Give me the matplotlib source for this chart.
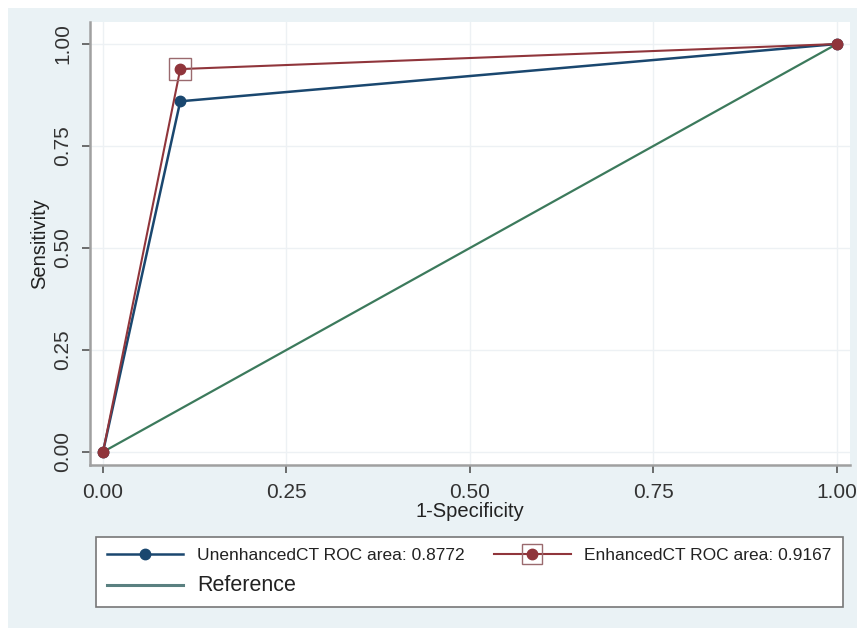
import matplotlib
matplotlib.use("Agg")
import matplotlib.pyplot as plt
from matplotlib.lines import Line2D
from matplotlib.patches import Rectangle

plt.rcParams['font.family'] = ['Liberation Sans', 'DejaVu Sans']

# data
fpr_unenh = [0.0, 0.1053, 1.0]
sens_unenh = [0.0, 0.8596, 1.0]
fpr_enh = [0.0, 0.1053, 1.0]
sens_enh = [0.0, 0.9386, 1.0]
ref_x = [0.0, 1.0]
ref_y = [0.0, 1.0]
ticks = [0.0, 0.25, 0.5, 0.75, 1.0]
tick_labels = ["0.00", "0.25", "0.50", "0.75", "1.00"]
label_unenh = "UnenhancedCT ROC area: 0.8772"
label_enh = "EnhancedCT ROC area: 0.9167"
label_ref = "Reference"

navy = "#1A476F"
maroon = "#90353B"
green = "#3C7A5C"
bg = "#EAF2F5"

fig = plt.figure(figsize=(8.61, 6.32), dpi=100, facecolor="white")
fig.patches.append(Rectangle((8/861, 4/632), 849/861, 620/632, transform=fig.transFigure,
                             facecolor=bg, edgecolor="none", zorder=-10))

ax = fig.add_axes([90/861, (632-465)/632, (850-90)/861, (465-22)/632])
ax.set_zorder(1)
ax.set_facecolor("white")
ax.set_xlim(-0.0177, 1.018)
ax.set_ylim(-0.032, 1.054)

for t in ticks:
    ax.axhline(t, color="#EDF1F4", lw=1.0, zorder=0)
    ax.axvline(t, color="#EDF1F4", lw=1.0, zorder=0)

ax.plot(ref_x, ref_y, color=green, lw=1.6, zorder=2)
ax.plot(fpr_unenh, sens_unenh, color=navy, lw=1.8, marker="o", ms=7.5, zorder=3)
ax.plot(fpr_enh, sens_enh, color=maroon, lw=1.5, marker="o", ms=7.5, zorder=4)
ax.plot([fpr_enh[1]], [sens_enh[1]], linestyle="none", marker="s", ms=16,
        markerfacecolor="none", markeredgecolor="#9A6A6E", mew=1.0, zorder=5)

for s in ["top", "right"]:
    ax.spines[s].set_visible(False)
for s in ["left", "bottom"]:
    ax.spines[s].set_color("#A0A0A0")
    ax.spines[s].set_linewidth(1.8)

ax.set_xticks(ticks)
ax.set_xticklabels(tick_labels, fontsize=15, color="#333333")
ax.set_yticks(ticks)
ax.set_yticklabels(tick_labels, fontsize=15, color="#333333", rotation=90, va="center")
ax.tick_params(direction="out", length=6, width=1.2, color="#555555", pad=7)
ax.set_xlabel("1-Specificity", fontsize=14.5, color="#222222", labelpad=0)
ax.set_ylabel("Sensitivity", fontsize=14.5, color="#222222", labelpad=3)

h_u = Line2D([], [], color=navy, lw=1.8, marker="o", ms=7.5)
h_e = Line2D([], [], color=maroon, lw=1.5, marker="o", ms=7.5)
h_es = Line2D([], [], color="none", marker="s", ms=14, markerfacecolor="none",
              markeredgecolor="#9A6A6E", mew=1.0)
h_r = Line2D([], [], color="#5A8080", lw=2.2)

leg = fig.legend([h_u, h_r, (h_e, h_es)], [label_unenh, label_ref, label_enh],
                 ncol=2, loc="upper left", bbox_to_anchor=(96/861, 1-537/632),
                 borderaxespad=0, fontsize=12.5, handlelength=4.4, handletextpad=0.8,
                 frameon=True, fancybox=False, edgecolor="#777777", borderpad=0.62,
                 labelspacing=0.72, columnspacing=1.7, framealpha=1)
leg.get_frame().set_linewidth(1.2)
for t in leg.get_texts():
    t.set_color("#222222")
    if t.get_text() == label_ref:
        t.set_fontsize(15.5)

fig.savefig("out.png", dpi=100, facecolor="white")
